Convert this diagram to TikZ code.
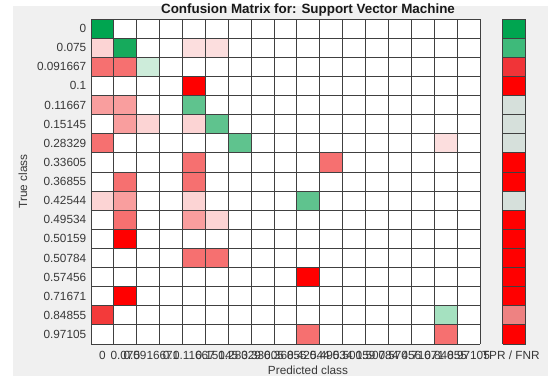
\documentclass[tikz,border=0pt]{standalone}
\usepackage{fontspec}
\setmainfont{Liberation Sans}
\begin{document}
\begin{tikzpicture}[x=1pt,y=-1pt,
  lbl/.style={font=\fontsize{11.8}{13}\selectfont, text=black!78, inner sep=0pt},
  gridline/.style={draw=black!75, line width=0.9pt}]
% colours of the cells
\definecolor{figbg}{RGB}{240,240,240}
\definecolor{gdark}{RGB}{0,165,80}
\definecolor{gmid}{RGB}{22,170,92}
\definecolor{gsoft}{RGB}{95,195,142}
\definecolor{glight}{RGB}{165,225,192}
\definecolor{gpale}{RGB}{205,236,218}
\definecolor{rfull}{RGB}{255,0,0}
\definecolor{rstrong}{RGB}{243,58,58}
\definecolor{rmid}{RGB}{246,112,112}
\definecolor{rsoft}{RGB}{249,158,158}
\definecolor{rlight}{RGB}{252,212,212}
\definecolor{rpale}{RGB}{252,222,222}
\definecolor{tprgreen}{RGB}{62,186,122}
\definecolor{tprred}{RGB}{240,52,56}
\definecolor{tprgray}{RGB}{214,224,219}
\definecolor{tprpink}{RGB}{238,130,130}

\useasboundingbox (0,0) rectangle (548,376);
\fill[white] (0,0) rectangle (548,376);
\fill[figbg] (13,6) rectangle (548,376);

\node[lbl, font=\fontsize{13.4}{15}\selectfont\bfseries, text=black!90] (title) at (308,10.5)
  {Confusion Matrix for: Support Vector Machine};

\begin{scope}[shift={(91,19)}, x=22.88pt, y=-19.12pt]
  % white background of the matrix
  \fill[white] (0,0) rectangle (17,17);
  % coloured cells: column/row/colour
  \foreach \c/\r/\col in {
    0/0/gdark,
    0/1/rlight, 1/1/gmid, 4/1/rpale, 5/1/rpale,
    0/2/rmid, 1/2/rmid, 2/2/gpale,
    4/3/rfull,
    0/4/rsoft, 1/4/rsoft, 4/4/gsoft,
    1/5/rsoft, 2/5/rlight, 4/5/rlight, 5/5/gsoft,
    0/6/rmid, 6/6/gsoft, 15/6/rpale,
    4/7/rmid, 10/7/rmid,
    1/8/rmid, 4/8/rmid,
    0/9/rlight, 1/9/rsoft, 4/9/rlight, 9/9/gsoft,
    1/10/rmid, 4/10/rsoft, 5/10/rlight,
    1/11/rfull,
    4/12/rmid, 5/12/rmid,
    9/13/rfull,
    1/14/rfull,
    0/15/rstrong, 15/15/glight,
    9/16/rmid, 15/16/rmid}
    \fill[\col] (\c,\r) rectangle ++(1,1);
  % matrix grid lines
  \foreach \k in {0,...,17} {
    \draw[gridline] (\k,0) -- (\k,17);
    \draw[gridline] (0,\k) -- (17,\k);
  }

  % true positive / false negative rate column
  \foreach \r/\col in {0/gdark, 1/tprgreen, 2/tprred, 3/rfull, 4/tprgray,
      5/tprgray, 6/tprgray, 7/rfull, 8/rfull, 9/tprgray, 10/rfull,
      11/rfull, 12/rfull, 13/rfull, 14/rfull, 15/tprpink, 16/rfull}
    \fill[\col] (18,\r) rectangle ++(1,1);
  \foreach \k in {0,...,17}
    \draw[gridline] (18,\k) -- (19,\k);
  \draw[gridline] (18,0) -- (18,17);
  \draw[gridline] (19,0) -- (19,17);

  % class names along both axes
  \foreach \t [count=\i from 0] in {0, 0.075, 0.091667, 0.1, 0.11667, 0.15145,
      0.28329, 0.33605, 0.36855, 0.42544, 0.49534, 0.50159, 0.50784, 0.57456,
      0.71671, 0.84855, 0.97105} {
    \node[lbl, anchor=east] (row\i) at (-0.2,\i+0.5) {\t};
    \node[lbl] (col\i) at (\i+0.5,17.6) {\t};
  }
  \node[lbl] (tpr) at (18.35,17.6) {TPR / FNR};
\end{scope}

\node[lbl, rotate=90] (ylabel) at (23,181.5) {True class};
\node[lbl] (xlabel) at (308,370) {Predicted class};
\end{tikzpicture}
\end{document}
